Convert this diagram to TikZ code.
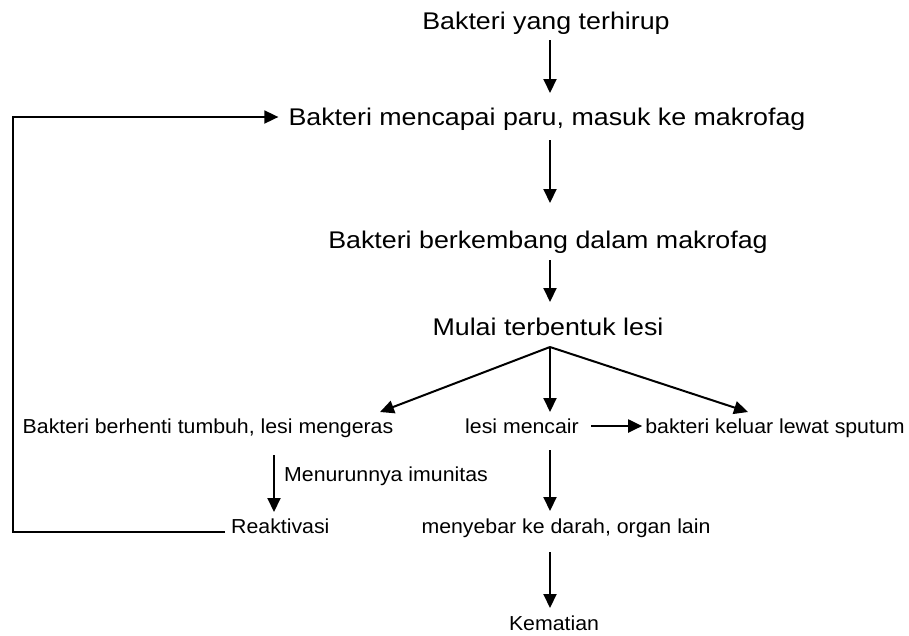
\documentclass[tikz,border=0pt]{standalone}
\usepackage{fontspec}
\usepackage{graphicx}
\setmainfont{Liberation Sans}
\usetikzlibrary{arrows.meta,calc}
\newcommand{\yb}[1]{\scalebox{1}[0.9]{#1}}
\newcommand{\ys}[1]{\scalebox{1}[0.95]{#1}}
\begin{document}
\begin{tikzpicture}[x=1pt,y=-1pt,
  big/.style={inner sep=0pt, anchor=base, font=\fontsize{26.8}{30}\selectfont},
  small/.style={inner sep=0pt, anchor=base, font=\fontsize{21.3}{24}\selectfont},
  tip/.style={-{Triangle[length=14pt,width=13pt]}},
  arr/.style={line width=2pt, tip},
  fb/.style={line width=1.8pt, tip}]
\useasboundingbox (0,0) rectangle (909,635);
\coordinate (col) at (550,0);
\coordinate (lc) at (274,0);
\coordinate (fl) at (13,117);
% main column
\node[big] (t1) at (546,29) {\yb{Bakteri yang terhirup}};
\node[big] (t2) at (547,125) {\yb{Bakteri mencapai paru, masuk ke makrofag}};
\node[big] (t3) at (548,248) {\yb{Bakteri berkembang dalam makrofag}};
\node[big] (t4) at (548,335) {\yb{Mulai terbentuk lesi}};
% branch row
\node[small] (l) at (208,433) {\ys{Bakteri berhenti tumbuh, lesi mengeras}};
\node[small] (m) at (522,433) {\ys{lesi mencair}};
\node[small] (r) at (775,433) {\ys{bakteri keluar lewat sputum}};
\node[small, anchor=base west] (imu) at (284,481) {\ys{Menurunnya imunitas}};
\node[small, anchor=base west] (re) at (231,533) {\ys{Reaktivasi}};
\node[small] (sp) at (566,533) {\ys{menyebar ke darah, organ lain}};
\node[small] (k) at (554,630) {\ys{Kematian}};
% connectors
\draw[arr] ($(t1.base -| col)+(0,11)$) -- ($(t2.base -| col)+(0,-32)$);
\draw[arr] ($(t2.base -| col)+(0,15)$) -- ($(t3.base -| col)+(0,-45)$);
\draw[arr] ($(t3.base -| col)+(0,12)$) -- ($(t4.base -| col)+(0,-33)$);
\coordinate (bp) at ($(t4.base -| col)+(0,12)$);
\draw[arr] (bp) -- ($(l.base)+(172,-21)$);
\draw[arr] (bp) -- ($(m.base -| col)+(0,-21)$);
\draw[arr] (bp) -- ($(r.base)+(-27,-21)$);
\draw[arr] ($(m.base east)+(12,-7)$) -- ($(r.base west)+(-3,-7)$);
\draw[arr] ($(l.base -| lc)+(0,22)$) -- ($(re.base -| lc)+(0,-21)$);
\draw[arr] ($(m.base -| col)+(0,17)$) -- ($(sp.base -| col)+(0,-22)$);
\draw[arr] ($(sp.base -| col)+(0,19)$) -- ($(k.base -| col)+(0,-22)$);
\draw[fb] ($(re.base west)+(-6,-1)$) -| (fl) |- ($(t2.base west)+(-10,-8)$);
\end{tikzpicture}
\end{document}
